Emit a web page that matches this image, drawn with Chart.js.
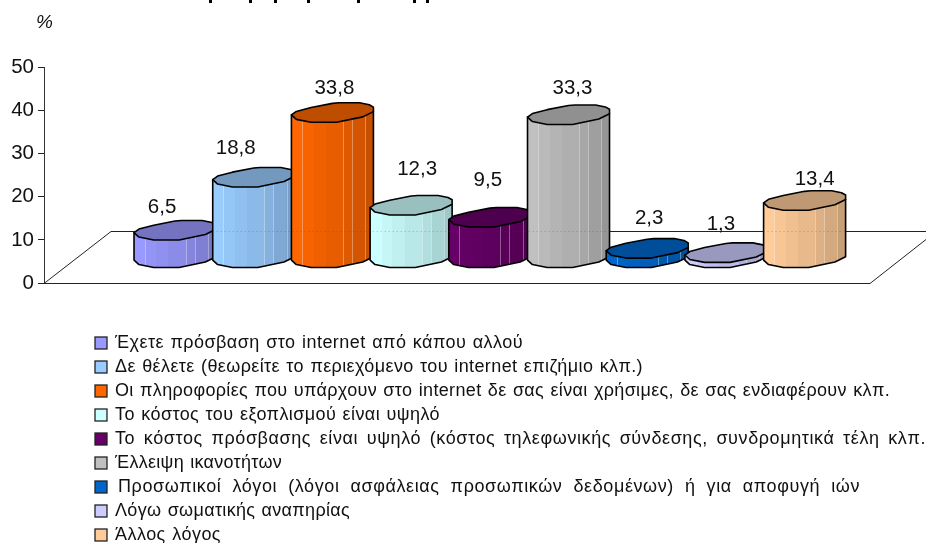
<!DOCTYPE html>
<html lang="el">
<head>
<meta charset="utf-8">
<title>Chart</title>
<script src="https://cdn.jsdelivr.net/npm/chart.js@4"></script>
<style>
  html, body { margin: 0; padding: 0; background: #fff; overflow: hidden; }
  #chart { display: block; }
</style>
</head>
<body>
<canvas id="chart" width="926" height="543"></canvas>
<script>
const categories = [
  'Έχετε πρόσβαση στο internet από κάπου αλλού',
  'Δε θέλετε (θεωρείτε το περιεχόμενο του internet επιζήμιο κλπ.)',
  'Οι πληροφορίες που υπάρχουν στο internet δε σας είναι χρήσιμες, δε σας ενδιαφέρουν κλπ.',
  'Το κόστος του εξοπλισμού είναι υψηλό',
  'Το κόστος πρόσβασης είναι υψηλό (κόστος τηλεφωνικής σύνδεσης, συνδρομητικά τέλη κλπ.',
  'Έλλειψη ικανοτήτων',
  'Προσωπικοί λόγοι (λόγοι ασφάλειας προσωπικών δεδομένων) ή για αποφυγή ιών',
  'Λόγω σωματικής αναπηρίας',
  'Άλλος λόγος'
];
const values = [6.5, 18.8, 33.8, 12.3, 9.5, 33.3, 2.3, 1.3, 13.4];
const yTicks = [0, 10, 20, 30, 40, 50];
const barColors = ['#9999FF', '#99CCFF', '#FF6600', '#CCFFFF', '#660066', '#C0C0C0', '#0066CC', '#CCCCFF', '#FFCC99'];

// where the labels sit relative to the bar centre / top of the bar, they are not regular in the original
const labelShift = [[-13, -13], [-18, -19], [2, -14], [6, -26], [-2, -27], [4, -17], [2, -20], [-5, -19], [10, -11]];
// x where each legend line has to end
const legendEnds = [523, 643, 890, 440, 926, 282, 860, 350, 221];

const FRONT_DROP = 15;   // bars stand this far above the y=0 line
const BACK_Y = 231;
const BAR_W = 1.042;     // bars are a bit wider than the step, they overlap

// outline of the top of a "cylinder", 0..1 in both directions
const upperEdge = [[0, .62], [.06, .44], [.24, .24], [.5, .03], [.58, 0], [.83, 0], [.95, .1], [1, .22]];
const lowerEdge = [[1, .45], [.87, .72], [.55, 1], [.24, 1], [.06, .85], [0, .62]];

function shade(hex, k) {
  const n = parseInt(hex.slice(1), 16);
  const r = Math.round((n >> 16 & 255) * k), g = Math.round((n >> 8 & 255) * k), b = Math.round((n & 255) * k);
  return `rgb(${r},${g},${b})`;
}

function tracePoints(path, pts, x, y, w, h, first) {
  pts.forEach((p, i) => {
    const px = x + p[0] * w, py = y + p[1] * h;
    if (i === 0 && first) path.moveTo(px, py); else path.lineTo(px, py);
  });
}

function drawCylinder(ctx, bar, color, w) {
  const h = 19.5;
  const left = bar.x - w / 2;
  const bottom = bar.base - FRONT_DROP;
  const height = bar.base - bar.y;
  const topY = bottom - h - height;
  const botY = bottom - h;

  // body
  const body = new Path2D();
  body.moveTo(left, topY + .62 * h);
  body.lineTo(left, botY + .62 * h);
  tracePoints(body, lowerEdge.slice().reverse(), left, botY, w, h, false);
  body.lineTo(left + w, topY + .45 * h);
  body.closePath();

  const grad = ctx.createLinearGradient(left, 0, left + w, 0);
  const bands = [[0, 1], [.13, .97], [.27, .94], [.42, .91], [.63, .87], [.74, .83], [.9, .78]];
  bands.forEach((b, i) => {
    const next = i + 1 < bands.length ? bands[i + 1][0] : 1;
    grad.addColorStop(b[0], shade(color, b[1]));
    grad.addColorStop(next - .001, shade(color, b[1]));
  });
  ctx.fillStyle = grad;
  ctx.fill(body);

  ctx.save();
  ctx.clip(body);
  ctx.strokeStyle = 'rgba(255,255,255,.35)';
  ctx.lineWidth = 1;
  [.13, .63, .74, .9].forEach(f => {
    const lx = Math.round(left + f * w) + .5;
    ctx.beginPath();
    ctx.moveTo(lx, topY);
    ctx.lineTo(lx, bottom);
    ctx.stroke();
  });
  ctx.restore();

  ctx.strokeStyle = '#000';
  ctx.lineWidth = 1.6;
  ctx.lineJoin = 'round';
  ctx.stroke(body);

  // top
  const cap = new Path2D();
  tracePoints(cap, upperEdge, left, topY, w, h, true);
  tracePoints(cap, lowerEdge, left, topY, w, h, false);
  cap.closePath();
  ctx.fillStyle = shade(color, .75);
  ctx.fill(cap);
  ctx.stroke(cap);
}

const floorPlugin = {
  id: 'floor',
  beforeDatasetsDraw(chart) {
    const { ctx, chartArea, width } = chart;
    const y0 = chart.scales.y.getPixelForValue(0);
    ctx.save();
    ctx.strokeStyle = '#222';
    ctx.lineWidth = 1;
    ctx.beginPath();
    ctx.moveTo(chartArea.left, y0 + .5);
    ctx.lineTo(chartArea.left + 67, BACK_Y + .5);
    ctx.lineTo(width, BACK_Y + .5);
    ctx.moveTo(chartArea.left, y0 + .5);
    ctx.lineTo(chartArea.right, y0 + .5);
    ctx.lineTo(width, BACK_Y + 8.5);
    ctx.stroke();
    ctx.restore();
  }
};

const cylinderPlugin = {
  id: 'cylinders',
  afterDatasetsDraw(chart) {
    const { ctx } = chart;
    const bars = chart.getDatasetMeta(0).data;
    const xScale = chart.scales.x;
    const step = xScale.getPixelForValue(1) - xScale.getPixelForValue(0);
    const w = step * BAR_W;
    ctx.save();
    bars.forEach((bar, i) => drawCylinder(ctx, bar, barColors[i], w));

    // the back wall line shows faintly through the bars
    ctx.strokeStyle = 'rgba(70,70,70,.35)';
    ctx.setLineDash([1, 3]);
    ctx.lineWidth = 1;
    ctx.beginPath();
    ctx.moveTo(bars[1].x - w / 2, BACK_Y + .5);
    ctx.lineTo(bars[5].x + w / 2, BACK_Y + .5);
    ctx.moveTo(bars[8].x - w / 2, BACK_Y + .5);
    ctx.lineTo(bars[8].x + w / 2, BACK_Y + .5);
    ctx.stroke();
    ctx.setLineDash([]);

    // value labels
    ctx.fillStyle = '#111';
    ctx.font = '20.5px "Liberation Sans", Arial, sans-serif';
    ctx.textAlign = 'center';
    ctx.textBaseline = 'middle';
    bars.forEach((bar, i) => {
      const top = bar.y - FRONT_DROP - 19.5;
      ctx.fillText(String(values[i]).replace('.', ','), bar.x + labelShift[i][0], top + labelShift[i][1]);
    });
    ctx.restore();
  }
};

const legendPlugin = {
  id: 'sideLegend',
  afterDraw(chart) {
    const { ctx } = chart;
    ctx.save();
    // unit mark
    ctx.fillStyle = '#111';
    ctx.font = 'italic 19px "Liberation Sans", Arial, sans-serif';
    ctx.textAlign = 'left';
    ctx.textBaseline = 'middle';
    ctx.fillText('%', 36, 23);

    // what is left of the title, cut off by the top of the picture
    ctx.fillStyle = '#000';
    [209, 249, 274, 307, 357, 413, 426].forEach(x => ctx.fillRect(x, 0, 3, 3));

    ctx.font = '18px "Liberation Sans", Arial, sans-serif';
    categories.forEach((label, i) => {
      const cy = 343 + i * 24;
      const textX = i === 6 ? 118 : 115;
      ctx.fillStyle = barColors[i];
      ctx.fillRect(95, cy - 6, 12, 12);
      ctx.strokeStyle = '#222';
      ctx.lineWidth = 1.3;
      ctx.strokeRect(95, cy - 6, 12, 12);

      // stretch the line to its end, through the word gaps if there is room, else the letters
      ctx.letterSpacing = '0.6px';
      ctx.wordSpacing = '0px';
      const spaces = label.split(' ').length - 1;
      const spare = legendEnds[i] - textX - ctx.measureText(label).width;
      if (spare / spaces < 1) {
        ctx.letterSpacing = (0.6 + (spare - spaces) / label.length) + 'px';
        ctx.wordSpacing = '1px';
      } else {
        ctx.wordSpacing = (spare / spaces) + 'px';
      }
      ctx.fillStyle = '#111';
      ctx.fillText(label, textX, cy);
    });
    ctx.restore();
  }
};

new Chart(document.getElementById('chart').getContext('2d'), {
  type: 'bar',
  data: {
    labels: categories,
    datasets: [{
      data: values.map((v, i) => ({ x: i, y: v })),
      backgroundColor: 'transparent',
      barPercentage: 1,
      categoryPercentage: 1
    }]
  },
  options: {
    responsive: false,
    animation: false,
    layout: { padding: { top: 67.5, bottom: 260, right: 56 } },
    scales: {
      x: { type: 'linear', display: false, offset: false, min: -1.665, max: 8.831 },
      y: {
        min: 0,
        max: 50,
        afterFit: scale => { scale.width = 44; },
        afterBuildTicks: scale => { scale.ticks = yTicks.map(value => ({ value })); },
        border: { color: '#333' },
        grid: { drawOnChartArea: false, color: '#222', tickLength: 6 },
        ticks: { color: '#111', padding: 4, font: { family: '"Liberation Sans", Arial, sans-serif', size: 20.5 } }
      }
    },
    plugins: { legend: { display: false }, tooltip: { enabled: false }, title: { display: false } }
  },
  plugins: [floorPlugin, cylinderPlugin, legendPlugin]
});
</script>
</body>
</html>
